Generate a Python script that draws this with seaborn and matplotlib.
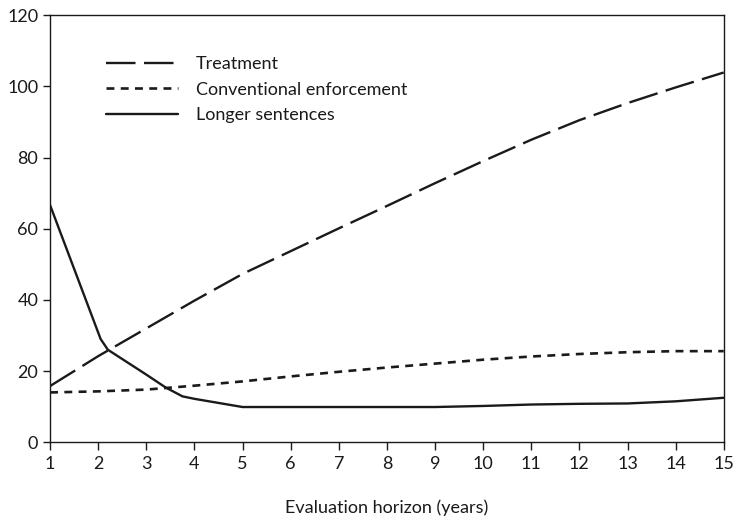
import matplotlib
matplotlib.use("Agg")
import matplotlib.pyplot as plt
import seaborn as sns
import pandas as pd

years = list(range(1, 16))
treatment = [15.8, 24.2, 32.0, 39.8, 47.3, 53.7, 60.1, 66.4, 72.8, 79.0, 85.0, 90.5, 95.3, 99.7, 103.9]
conventional = [14.0, 14.3, 14.8, 15.9, 17.1, 18.5, 19.8, 21.0, 22.1, 23.2, 24.1, 24.8, 25.3, 25.6, 25.6]

# longer sentences has its kinks between whole years, so it keeps its own x points
sentence_years = [1, 2.05, 2.2, 3.0, 3.4, 3.75, 4.0, 5.0, 6, 7, 8, 9, 10, 11, 12, 13, 14, 15]
sentences = [66.6, 29.0, 26.0, 19.0, 15.4, 12.9, 12.2, 9.9, 9.9, 9.9, 9.9, 9.9, 10.2, 10.6, 10.8, 10.9, 11.5, 12.5]

series_names = ["Treatment", "Conventional enforcement", "Longer sentences"]

sns.set_theme(style="ticks")
plt.rcParams["font.family"] = ["Lato", "DejaVu Sans"]

ink = "#1a1a1a"
fig = plt.figure(figsize=(7.37, 5.24), dpi=100)
ax = fig.add_axes([0.068, 0.156, 0.914, 0.815])

df_treat = pd.DataFrame({"year": years, "value": treatment})
df_conv = pd.DataFrame({"year": years, "value": conventional})
df_sent = pd.DataFrame({"year": sentence_years, "value": sentences})

sns.lineplot(data=df_treat, x="year", y="value", ax=ax, color=ink, lw=1.7,
             linestyle=(0, (12.5, 3.6)), label=series_names[0])
sns.lineplot(data=df_conv, x="year", y="value", ax=ax, color=ink, lw=1.9,
             linestyle=(0, (3.0, 2.4)), label=series_names[1])
sns.lineplot(data=df_sent, x="year", y="value", ax=ax, color=ink, lw=1.7,
             linestyle="-", label=series_names[2])

ax.set_xlim(1, 15)
ax.set_ylim(0, 120)
ax.set_xticks(years)
ax.set_yticks(range(0, 121, 20))
ax.tick_params(axis="both", direction="out", length=5, width=1, colors=ink,
               labelsize=13, labelcolor=ink)
ax.tick_params(axis="x", length=6, pad=4)
for s in ax.spines.values():
    s.set_color(ink)
    s.set_linewidth(1)
    s.set_visible(True)

ax.set_xlabel("Evaluation horizon (years)", fontsize=13, labelpad=20, color=ink)
ax.set_ylabel("")

leg = ax.legend(loc="upper left", bbox_to_anchor=(0.072, 0.921), frameon=False,
                fontsize=13, handlelength=4.0, handletextpad=1.0, labelspacing=0.52,
                borderaxespad=0)
for t in leg.get_texts():
    t.set_color(ink)

fig.savefig("out.png", dpi=100)
